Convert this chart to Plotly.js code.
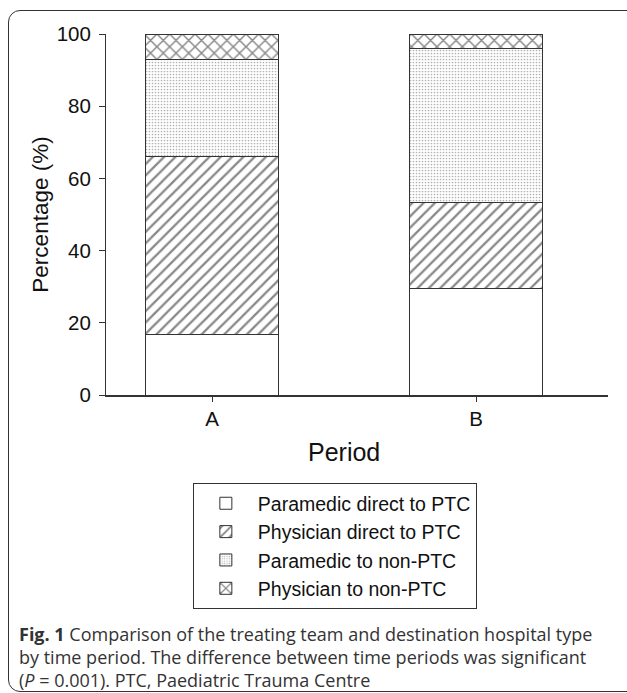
<!DOCTYPE html>
<html>
<head>
<meta charset="utf-8">
<script src="https://cdn.plot.ly/plotly-3.0.1.min.js"></script>
<style>
  html, body { margin: 0; padding: 0; background: #fff; }
  #wrap { position: relative; width: 627px; height: 693px; overflow: hidden; }
  #chart { position: absolute; left: 0; top: 0; width: 627px; height: 693px; }
  #frame { position: absolute; left: 8px; top: 10px; width: 640px; height: 682px;
           border: 1.5px solid #333; border-radius: 12px; pointer-events: none; box-sizing: border-box; }
</style>
</head>
<body>
<div id="wrap">
  <div id="chart"></div>
  <div id="frame"></div>
</div>
<script>
const periods = ['A', 'B'];
const seriesNames = ['Paramedic direct to PTC', 'Physician direct to PTC', 'Paramedic to non-PTC', 'Physician to non-PTC'];
const paramedicDirect = [16.8, 29.4];
const physicianDirect = [49.2, 23.8];
const paramedicNonPTC = [26.8, 42.8];
const physicianNonPTC = [7.2, 4.0];
const yTicks = [0, 20, 40, 60, 80, 100];

const values = [paramedicDirect, physicianDirect, paramedicNonPTC, physicianNonPTC];
const patterns = [
  {shape: '', fgcolor: '#222', bgcolor: '#fff'},
  {shape: '/', size: 8, solidity: 0.28, fgcolor: '#111', bgcolor: '#fff', fillmode: 'overlay'},
  {shape: '.', size: 3, solidity: 0.25, fgcolor: '#666', bgcolor: '#fff', fillmode: 'overlay'},
  {shape: 'x', size: 9, solidity: 0.3, fgcolor: '#111', bgcolor: '#fff', fillmode: 'overlay'}
];

const traces = values.map((v, i) => ({
  type: 'bar',
  name: seriesNames[i],
  x: periods,
  y: v,
  width: 0.504,
  marker: {color: '#fff', line: {color: '#333', width: 1}, pattern: patterns[i]},
  hoverinfo: 'skip'
}));

const fam = 'Liberation Sans, Arial, sans-serif';
const axFont = {family: fam, size: 20.5, color: '#111'};
const capFont = {family: 'Open Sans, sans-serif', size: 18, color: '#333'};

const layout = {
  width: 627, height: 693,
  margin: {l: 106, r: 19, t: 34, b: 298},
  paper_bgcolor: 'rgba(0,0,0,0)',
  plot_bgcolor: 'rgba(0,0,0,0)',
  barmode: 'stack',
  showlegend: true,
  xaxis: {
    type: 'category', range: [-0.4015, 1.5],
    showline: true, linecolor: '#333', linewidth: 1.5,
    ticks: 'outside', ticklen: 5, tickcolor: '#333',
    showgrid: false, zeroline: false,
    tickfont: axFont
  },
  yaxis: {
    range: [0, 100], tickvals: yTicks,
    showline: true, linecolor: '#333', linewidth: 1,
    ticks: 'outside', ticklen: 6, tickcolor: '#333',
    ticklabelstandoff: 4,
    showgrid: false, zeroline: false,
    tickfont: axFont,
    title: {text: 'Percentage (%)', font: {family: fam, size: 22.5, color: '#111'}, standoff: 1}
  },
  legend: {
    x: 0.173, y: -0.244, xanchor: 'left', yanchor: 'top',
    bordercolor: '#333', borderwidth: 1, bgcolor: '#fff',
    traceorder: 'normal',
    font: {family: fam, size: 19.5, color: '#111'},
    itemwidth: 54
  },
  annotations: [
    {xref: 'x', yref: 'paper', x: 0.5, y: -0.158, xanchor: 'center', yanchor: 'middle', showarrow: false,
     text: 'Period', font: {family: fam, size: 25, color: '#111'}},
    {xref: 'paper', yref: 'paper', x: -0.177, y: -0.662, xanchor: 'left', yanchor: 'middle', showarrow: false,
     text: '<b>Fig. 1</b> Comparison of the treating team and destination hospital type', font: capFont},
    {xref: 'paper', yref: 'paper', x: -0.177, y: -0.727, xanchor: 'left', yanchor: 'middle', showarrow: false,
     text: 'by time period. The difference between time periods was significant', font: capFont},
    {xref: 'paper', yref: 'paper', x: -0.177, y: -0.789, xanchor: 'left', yanchor: 'middle', showarrow: false,
     text: '(<i>P</i> = 0.001). PTC, Paediatric Trauma Centre', font: capFont}
  ]
};

Plotly.newPlot('chart', traces, layout, {displayModeBar: false, staticPlot: true});
</script>
</body>
</html>
